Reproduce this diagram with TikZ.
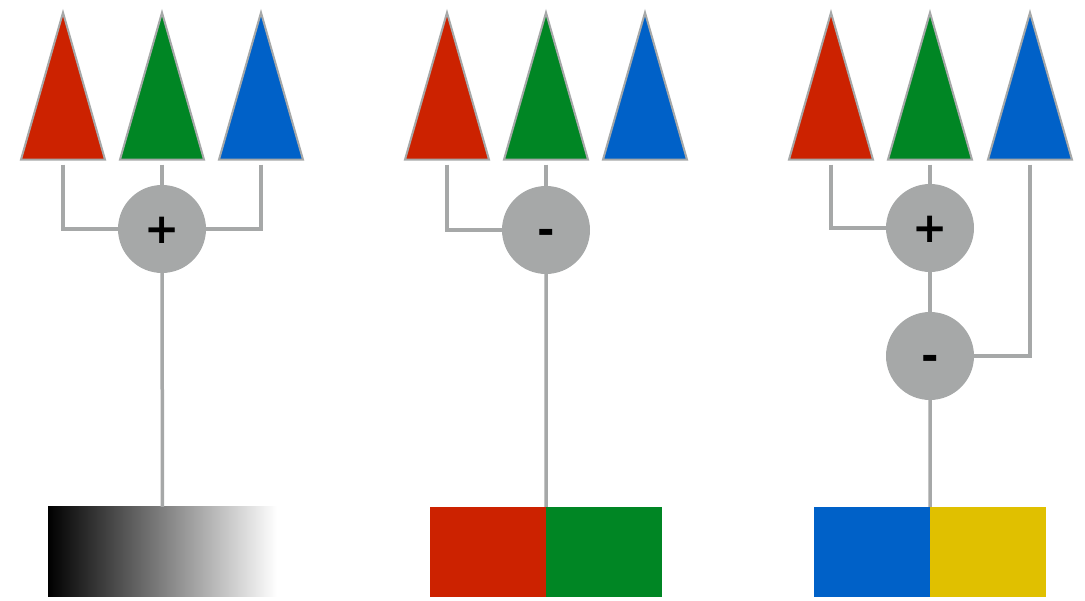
\documentclass[tikz,border=0pt]{standalone}
\usepackage{xcolor}
\usepackage{fontspec}
\setmainfont{DejaVu Sans}
\usepackage{tikz}
\usetikzlibrary{shapes.geometric}
\definecolor{conered}{RGB}{204,34,0}
\definecolor{conegreen}{RGB}{0,134,36}
\definecolor{coneblue}{RGB}{0,97,200}
\definecolor{chanyellow}{RGB}{224,192,0}
\definecolor{wiregray}{RGB}{166,168,168}
\tikzstyle{cone} = [isosceles triangle, isosceles triangle stretches, shape border rotate=90, minimum width=84pt, minimum height=147pt, inner sep=0pt, draw=wiregray, line width=2pt, anchor=apex]
\tikzstyle{mixer} = [circle, minimum size=88pt, inner sep=0pt, fill=wiregray, text height=30pt, text depth=0pt, font=\fontsize{42}{42}\selectfont\bfseries]
\tikzstyle{swatch} = [rectangle, minimum width=116pt, minimum height=90pt, inner sep=0pt]
\tikzstyle{wire} = [line width=3.5pt, draw=wiregray]

\begin{document}
\begin{tikzpicture}[x=1pt, y=1pt]
	\useasboundingbox (0,0) rectangle (1085,601);
	\node (r1) [cone, fill=conered] at (63,591) {};
	\node (g1) [cone, fill=conegreen] at (162,591) {};
	\node (b1) [cone, fill=coneblue] at (261,591) {};
	\node (r2) [cone, fill=conered] at (447,591) {};
	\node (g2) [cone, fill=conegreen] at (546,591) {};
	\node (b2) [cone, fill=coneblue] at (645,591) {};
	\node (r3) [cone, fill=conered] at (831,591) {};
	\node (g3) [cone, fill=conegreen] at (930,591) {};
	\node (b3) [cone, fill=coneblue] at (1030,591) {};

	\node (add1) [mixer] at (162,372) {+};
	\node (sub2) [mixer] at (546,371) {-};
	\node (add3) [mixer] at (930,373) {+};
	\node (sub3) [mixer] at (930,245) {-};

	\node (lum) [swatch, minimum width=229pt, left color=black, right color=white] at (162.5,49) {};
	\node (o2r) [swatch, fill=conered] at (488,49) {};
	\node (o2g) [swatch, fill=conegreen, right of=o2r, node distance=116pt] {};
	\node (o3b) [swatch, fill=coneblue] at (872,49) {};
	\node (o3y) [swatch, fill=chanyellow, right of=o3b, node distance=116pt] {};

	\draw [wire, shorten <=4pt] (r1) |- (add1);
	\draw [wire, shorten <=4pt] (g1) -- (add1);
	\draw [wire, shorten <=4pt] (b1) |- (add1);
	\draw [wire] (add1) -- (lum);
	\draw [wire, shorten <=4pt] (r2) |- (sub2);
	\draw [wire, shorten <=4pt] (g2) -- (sub2);
	\draw [wire] (sub2) -- (o2r.north east);
	\draw [wire, shorten <=4pt] (r3) |- (add3);
	\draw [wire, shorten <=4pt] (g3) -- (add3);
	\draw [wire] (add3) -- (sub3);
	\draw [wire, shorten <=4pt] (b3) |- (sub3);
	\draw [wire] (sub3) -- (o3b.north east);
\end{tikzpicture}
\end{document}
